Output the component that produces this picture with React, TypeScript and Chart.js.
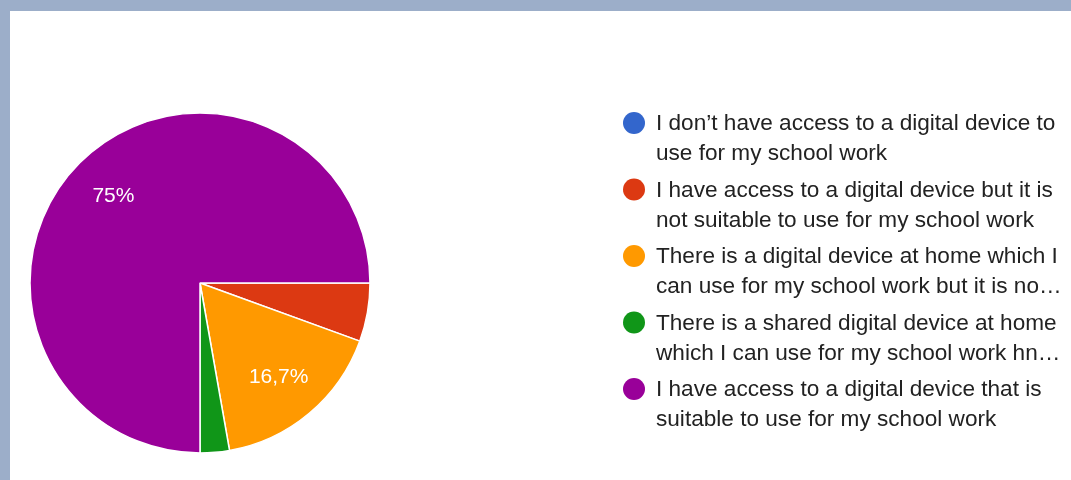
import React, { useEffect, useRef } from "react";
import { Chart, registerables } from "chart.js";

Chart.register(...registerables);

const categories = [
  "I don’t have access to a digital device to use for my school work",
  "I have access to a digital device but it is not suitable to use for my school work",
  "There is a digital device at home which I can use for my school work but it is no…",
  "There is a shared digital device at home which I can use for my school work hn…",
  "I have access to a digital device that is suitable to use for my school work",
];
const responses = [0, 2, 6, 1, 27];
const sliceColors = ["#3366cc", "#dc3912", "#ff9900", "#109618", "#990099"];

const FONT = '"Liberation Sans", Arial, sans-serif';

function formatPct(v: number): string {
  const r = Math.round(v * 10) / 10;
  const s = Number.isInteger(r) ? String(r) : r.toFixed(1);
  return s.replace(".", ",") + "%";
}

function wrap(ctx: CanvasRenderingContext2D, text: string, maxWidth: number): string[] {
  const words = text.split(" ");
  const lines: string[] = [];
  let cur = "";
  for (const w of words) {
    const test = cur ? cur + " " + w : w;
    if (ctx.measureText(test).width > maxWidth && cur) {
      lines.push(cur);
      cur = w;
    } else {
      cur = test;
    }
  }
  if (cur) lines.push(cur);
  return lines;
}

const sliceLabelPlugin = {
  id: "sliceLabels",
  afterDatasetsDraw(chart: any) {
    const ctx = chart.ctx as CanvasRenderingContext2D;
    const meta = chart.getDatasetMeta(0);
    const data = chart.data.datasets[0].data as number[];
    const total = data.reduce((a, b) => a + b, 0);
    ctx.save();
    ctx.font = `21px ${FONT}`;
    ctx.fillStyle = "#ffffff";
    ctx.textAlign = "center";
    ctx.textBaseline = "middle";
    meta.data.forEach((arc: any, i: number) => {
      const pct = (data[i] / total) * 100;
      if (pct < 10) return;
      const { x, y, startAngle, endAngle, outerRadius } = arc.getProps(
        ["x", "y", "startAngle", "endAngle", "outerRadius"],
        true
      );
      const mid = (startAngle + endAngle) / 2;
      const r = outerRadius * 0.72;
      ctx.fillText(formatPct(pct), x + Math.cos(mid) * r, y + Math.sin(mid) * r);
    });
    ctx.restore();
  },
};

const legendPlugin = {
  id: "sideLegend",
  afterDraw(chart: any) {
    const ctx = chart.ctx as CanvasRenderingContext2D;
    const labels = chart.data.labels as string[];
    const colors = chart.data.datasets[0].backgroundColor as string[];
    const markerX = 624;
    const textX = 646;
    const firstY = 112;
    const itemStep = 66.5;
    const lineStep = 30;
    ctx.save();
    ctx.font = `22.6px ${FONT}`;
    ctx.textAlign = "left";
    ctx.textBaseline = "middle";
    labels.forEach((label, i) => {
      const y = firstY + i * itemStep;
      ctx.beginPath();
      ctx.arc(markerX, y, 11, 0, Math.PI * 2);
      ctx.fillStyle = colors[i];
      ctx.fill();
      const lines = wrap(ctx, label, 418);
      ctx.fillStyle = "#222222";
      lines.forEach((ln, j) => {
        ctx.fillText(ln, textX, y + 1 + j * lineStep);
      });
    });
    ctx.restore();
  },
};

export default function App() {
  const canvasRef = useRef<HTMLCanvasElement | null>(null);

  useEffect(() => {
    if (!canvasRef.current) return;
    const chart = new Chart(canvasRef.current, {
      type: "pie",
      data: {
        labels: categories,
        datasets: [
          {
            data: responses,
            backgroundColor: sliceColors,
            borderColor: "#ffffff",
            borderWidth: 1.5,
            hoverOffset: 0,
          },
        ],
      },
      options: {
        responsive: false,
        animation: false,
        rotation: 90,
        radius: 170,
        layout: { padding: { left: 20, top: 102, right: 701, bottom: 27 } },
        plugins: {
          legend: { display: false },
          tooltip: { enabled: false },
          title: { display: false },
        },
      } as any,
      plugins: [sliceLabelPlugin, legendPlugin],
    });
    return () => chart.destroy();
  }, []);

  return (
    <div
      style={{
        position: "fixed",
        left: 0,
        top: 0,
        width: 1071,
        height: 480,
        background: "#9caec9",
        overflow: "hidden",
      }}
    >
      <div
        style={{
          position: "absolute",
          left: 10,
          top: 11,
          width: 1061,
          height: 469,
          background: "#ffffff",
        }}
      >
        <canvas ref={canvasRef} width={1061} height={469} style={{ display: "block" }} />
      </div>
    </div>
  );
}
